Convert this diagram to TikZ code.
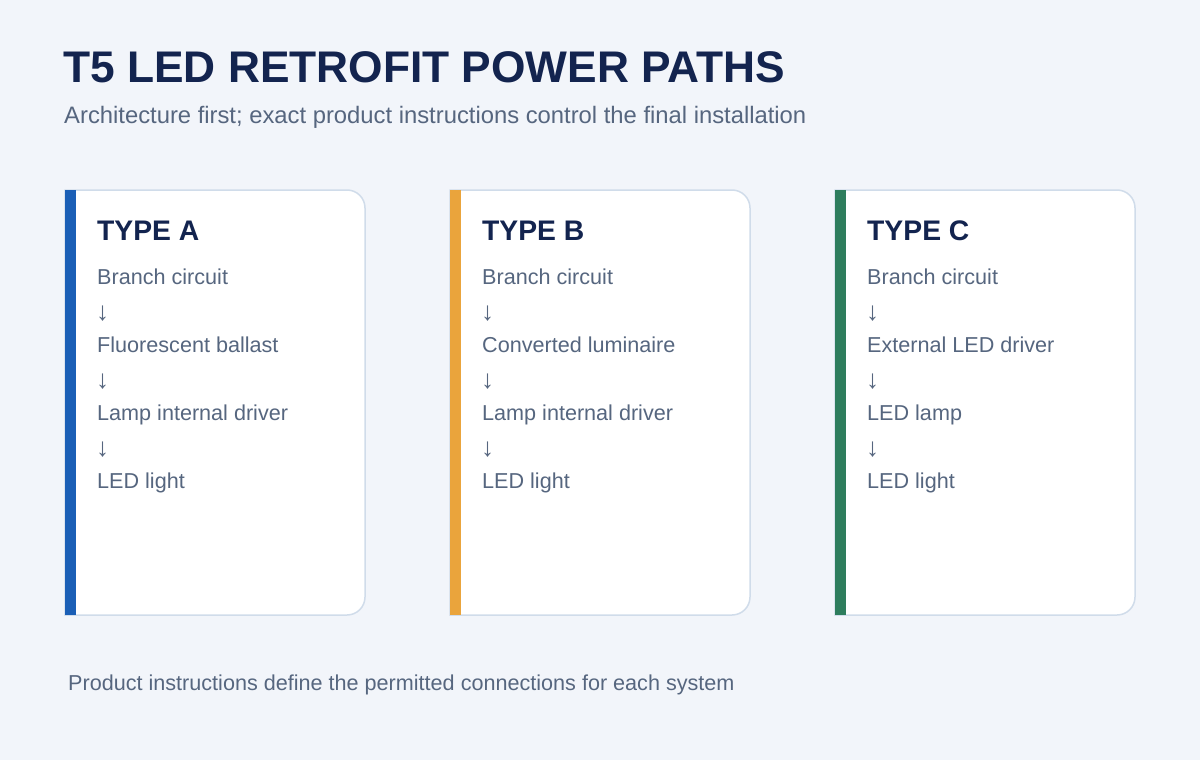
\documentclass[tikz,border=0pt]{standalone}
\usepackage{fontspec}
\setmainfont{Liberation Sans}
\usepackage{xcolor}

\definecolor{pagebg}{HTML}{F2F5FA}
\definecolor{navy}{HTML}{13244F}
\definecolor{slate}{HTML}{56667F}
\definecolor{edge}{HTML}{D0DCEA}
\definecolor{barA}{HTML}{1B5FB6}
\definecolor{barB}{HTML}{EAA43C}
\definecolor{barC}{HTML}{2E7D5D}

\tikzset{
  txt/.style={anchor=base west, inner sep=0pt, text=slate},
  heading/.style={txt, text=navy, font=\bfseries\fontsize{28.3}{33}\selectfont},
  pathline/.style={txt, font=\fontsize{21.6}{26}\selectfont},
  downarrow/.style={txt, font=\fontsize{26}{30}\selectfont},
  card/.style={fill=white, draw=edge, line width=1.5pt}
}

\begin{document}
\begin{tikzpicture}[x=1pt, y=-1pt]
    \useasboundingbox[fill=pagebg] (0,0) rectangle (1200,760);
    \node[txt, text=navy, font=\bfseries\fontsize{44.3}{52}\selectfont] (title) at (63,83)
    {T5 LED RETROFIT POWER PATHS};
    \node[txt, font=\fontsize{23.8}{28}\selectfont] (sub) at (64,124)
    {Architecture first; exact product instructions control the final installation};
    \foreach \k/\dx/\col/\name/\a/\b in {%
      A/0/barA/TYPE A/Fluorescent ballast/Lamp internal driver,
      B/385/barB/TYPE B/Converted luminaire/Lamp internal driver,
      C/770/barC/TYPE C/External LED driver/LED lamp} {
      \begin{scope}[xshift=\dx]
        \draw[card] (65,190) -- (347,190)
          .. controls (356.94,190) and (365,198.06) .. (365,208) -- (365,597)
          .. controls (365,606.94) and (356.94,615) .. (347,615) -- (65,615) -- cycle;
        \fill[\col] (65,190) rectangle (76,615);
        \node[heading] (head\k) at (97,240.5) {\name};
        \node[pathline] (src\k) at (97,284.5) {Branch circuit};
        \node[downarrow] (d1\k) at (96,320) {↓};
        \node[pathline] (mid\k) at (97,352.5) {\a};
        \node[downarrow] (d2\k) at (96,388) {↓};
        \node[pathline] (lamp\k) at (97,420.5) {\b};
        \node[downarrow] (d3\k) at (96,456) {↓};
        \node[pathline] (out\k) at (97,488.5) {LED light};
      \end{scope}
    }
    \node[pathline] (note) at (68,690.5)
    {Product instructions define the permitted connections for each system};
\end{tikzpicture}
\end{document}
